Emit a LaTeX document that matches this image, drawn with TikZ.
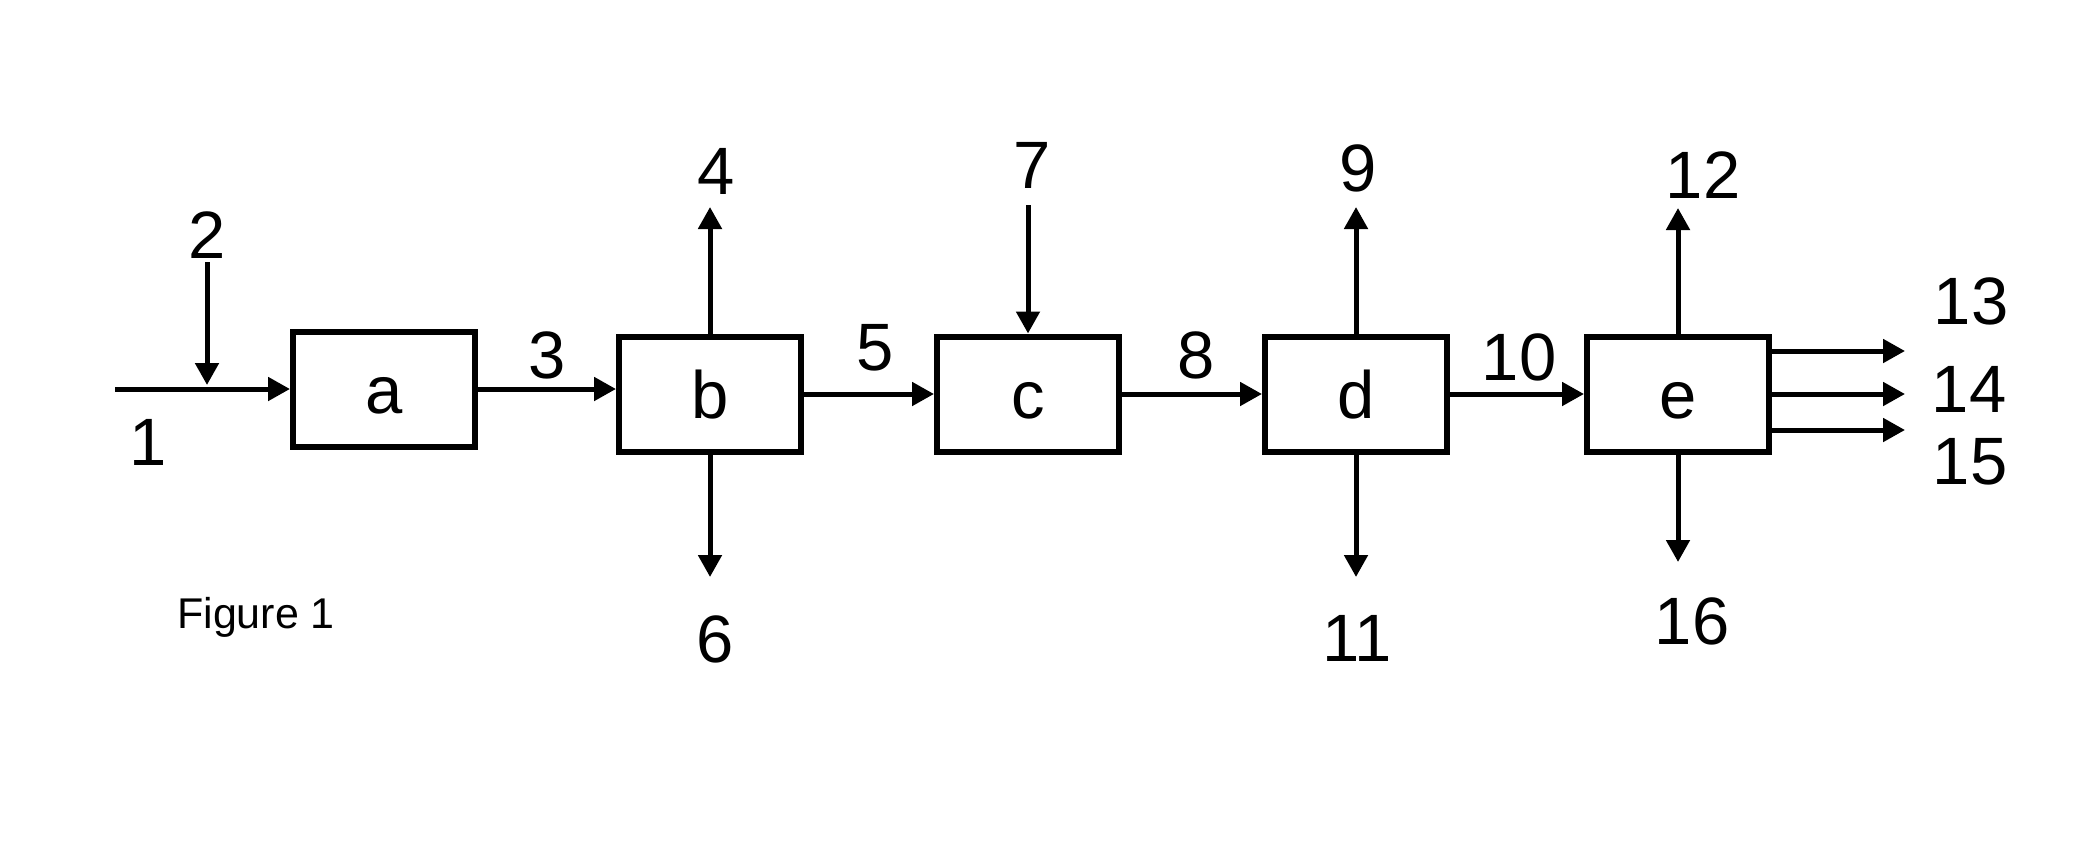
\documentclass[tikz,border=0pt]{standalone}
\usepackage{fontspec}
\setmainfont{Liberation Sans}
\usetikzlibrary{arrows.meta}
\begin{document}
\begin{tikzpicture}[x=1pt,y=-1pt,
  proc/.style={draw,line width=6pt,minimum width=182pt,minimum height=115pt,inner sep=0pt,
    font=\fontsize{67}{67}\selectfont,text height=48pt,text depth=0pt},
  lbl/.style={inner sep=0pt,font=\fontsize{67}{67}\selectfont},
  flow/.style={line width=5pt,-{Triangle[length=22pt,width=23pt]}}]
\useasboundingbox (0,0) rectangle (2076,864);
% boxes
\node[proc] (a) at (384,389) {a};
\node[proc] (b) at (710,394) {b};
\node[proc] (c) at (1028,394) {c};
\node[proc] (d) at (1356,394) {d};
\node[proc] (e) at (1678,394) {e};
% free ends
\coordinate (s1) at (115,389);
\coordinate (s2) at (207,262);
\coordinate (m2) at (207,385);
\coordinate (t4) at (710,207);
\coordinate (t6) at (710,577);
\coordinate (s7) at (1028,205);
\coordinate (t9) at (1356,207);
\coordinate (t11) at (1356,577);
\coordinate (t12) at (1678,208);
\coordinate (t13) at (1905,351);
\coordinate (t14) at (1905,394);
\coordinate (t15) at (1905,430);
\coordinate (t16) at (1678,562);
% connectors
\draw[flow] (s1) -- (a.west);
\draw[flow] (s2) -- (m2);
\draw[flow] (a.east) -- (a.east -| b.west);
\draw[flow] (b.north) -- (t4);
\draw[flow] (b.south) -- (t6);
\draw[flow] (b.east) -- (c.west);
\draw[flow] (s7) -- (c.north);
\draw[flow] (c.east) -- (d.west);
\draw[flow] (d.north) -- (t9);
\draw[flow] (d.south) -- (t11);
\draw[flow] (d.east) -- (e.west);
\draw[flow] (e.north) -- (t12);
\draw[flow] (e.south) -- (t16);
\draw[flow] (e.east |- t13) -- (t13);
\draw[flow] (e.east) -- (t14);
\draw[flow] (e.east |- t15) -- (t15);
% labels
\node[lbl] (l1) at (148,442) {1};
\node[lbl] (l2) at (207,235) {2};
\node[lbl] (l3) at (547,355) {3};
\node[lbl] (l4) at (716,171) {4};
\node[lbl] (l5) at (875,348) {5};
\node[lbl] (l6) at (715,639) {6};
\node[lbl] (l7) at (1032,165) {7};
\node[lbl] (l8) at (1196,355) {8};
\node[lbl] (l9) at (1358,168) {9};
\node[lbl] (l10) at (1519,357) {10};
\node[lbl] (l11) at (1357,638) {11};
\node[lbl] (l12) at (1703,175) {12};
\node[lbl] (l13) at (1971,301) {13};
\node[lbl] (l14) at (1969,389) {14};
\node[lbl] (l15) at (1970,462) {15};
\node[lbl] (l16) at (1692,621) {16};
\node[inner sep=0pt,anchor=base west,font=\fontsize{43}{43}\selectfont] (fig) at (177,628) {Figure 1};
\end{tikzpicture}
\end{document}
